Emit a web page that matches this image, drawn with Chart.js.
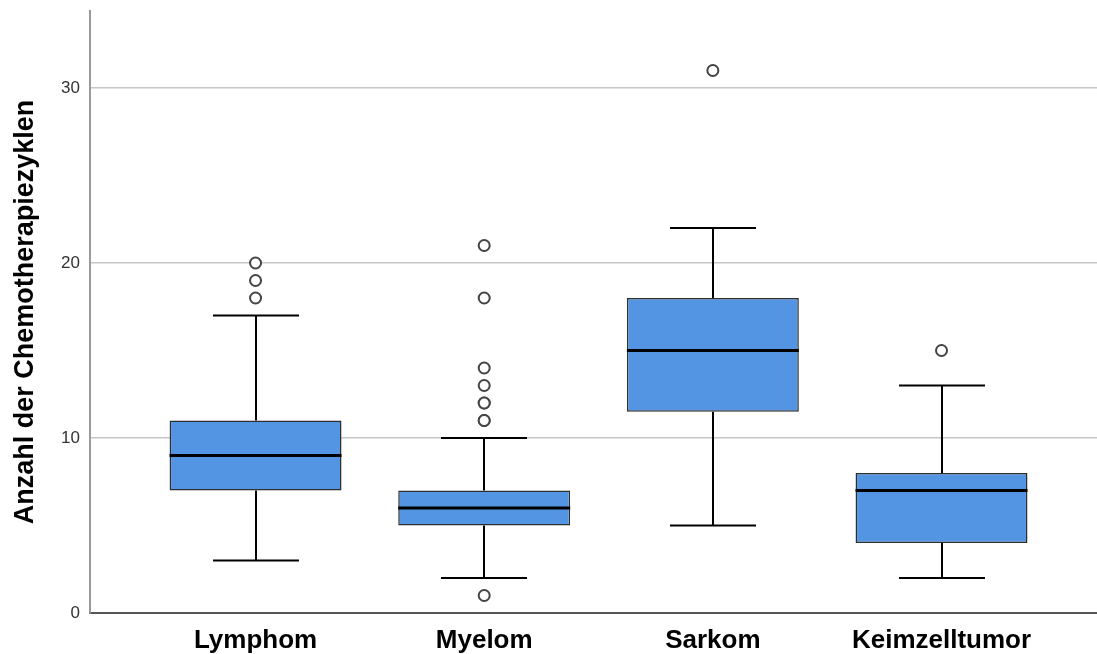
<!DOCTYPE html>
<html>
<head>
<meta charset="utf-8">
<script src="https://cdn.jsdelivr.net/npm/chart.js@4.4.1/dist/chart.umd.min.js"></script>
<style>
  html, body { margin: 0; padding: 0; background: #fff; }
  #wrap { width: 1097px; height: 654px; position: relative; }
</style>
</head>
<body>
<div id="wrap"><canvas id="c" width="1097" height="654"></canvas></div>
<script>
// ---- data ----
const categories = ['Lymphom', 'Myelom', 'Sarkom', 'Keimzelltumor'];
const whiskerLow  = [3, 2, 5, 2];
const quartile1   = [7, 5, 11.5, 4];
const medians     = [9, 6, 15, 7];
const quartile3   = [11, 7, 18, 8];
const whiskerHigh = [17, 10, 22, 13];
const outliersLymphom = [18, 19, 20];
const outliersMyelom = [1, 11, 11, 12, 12, 13, 14, 18, 21];
const outliersSarkom = [31];
const outliersKeimzelltumor = [15];
const yTicks = [0, 10, 20, 30];
const yAxisTitle = 'Anzahl der Chemotherapiezyklen';

// ---- build library structures ----
const positions = categories.map((_, i) => i + 1);
const boxData = positions.map((x, i) => ({ x: x, y: [quartile1[i], quartile3[i]] }));
const outlierGroups = [outliersLymphom, outliersMyelom, outliersSarkom, outliersKeimzelltumor];
const outlierData = [];
outlierGroups.forEach((g, i) => g.forEach(v => outlierData.push({ x: positions[i], y: v })));

const boxPlugin = {
  id: 'boxParts',
  beforeDatasetsDraw(chart) {
    const { ctx, scales: { x, y } } = chart;
    const meta = chart.getDatasetMeta(0);
    ctx.save();
    ctx.strokeStyle = '#000';
    ctx.lineWidth = 2;
    positions.forEach((p, i) => {
      const px = Math.round(x.getPixelForValue(p));
      const w = meta.data[i].width;
      const capHalf = w / 4;
      const yLo = y.getPixelForValue(whiskerLow[i]);
      const yQ1 = y.getPixelForValue(quartile1[i]);
      const yQ3 = y.getPixelForValue(quartile3[i]);
      const yHi = y.getPixelForValue(whiskerHigh[i]);
      ctx.beginPath();
      ctx.moveTo(px, yQ1); ctx.lineTo(px, yLo);
      ctx.moveTo(px, yQ3); ctx.lineTo(px, yHi);
      ctx.moveTo(px - capHalf, yLo); ctx.lineTo(px + capHalf, yLo);
      ctx.moveTo(px - capHalf, yHi); ctx.lineTo(px + capHalf, yHi);
      ctx.stroke();
    });
    ctx.restore();
  },
  afterDatasetsDraw(chart) {
    const { ctx, scales: { x, y } } = chart;
    const meta = chart.getDatasetMeta(0);
    ctx.save();
    ctx.strokeStyle = '#000';
    ctx.lineWidth = 3;
    positions.forEach((p, i) => {
      const px = x.getPixelForValue(p);
      const w = meta.data[i].width;
      const ym = y.getPixelForValue(medians[i]);
      ctx.beginPath();
      ctx.moveTo(px - w / 2, ym); ctx.lineTo(px + w / 2, ym);
      ctx.stroke();
    });
    ctx.restore();
  }
};

new Chart(document.getElementById('c'), {
  type: 'bar',
  data: {
    datasets: [
      {
        type: 'bar',
        data: boxData,
        backgroundColor: '#5394e3',
        borderColor: '#2e2e2e',
        borderWidth: 1.5,
        borderSkipped: false,
        categoryPercentage: 1,
        barPercentage: 0.752,
        order: 2
      },
      {
        type: 'scatter',
        data: outlierData,
        pointRadius: 5.5,
        pointHoverRadius: 5.5,
        pointBorderWidth: 2,
        pointBorderColor: '#444444',
        pointBackgroundColor: '#ffffff',
        order: 1
      }
    ]
  },
  options: {
    responsive: false,
    animation: false,
    events: [],
    layout: { autoPadding: false, padding: { top: 11, right: 0, bottom: 0, left: 0 } },
    plugins: { legend: { display: false }, tooltip: { enabled: false } },
    scales: {
      x: {
        type: 'linear',
        offset: false,
        min: 0.276,
        max: 4.68,
        afterBuildTicks: (s) => { s.ticks = positions.map(v => ({ value: v })); },
        afterFit: (s) => { s.height = 41; s.paddingLeft = 0; s.paddingRight = 0; },
        grid: { display: false, drawTicks: false, offset: false },
        border: { display: true, color: '#555555', width: 2 },
        ticks: {
          autoSkip: false,
          maxRotation: 0,
          padding: 12,
          color: '#000',
          font: { family: 'Liberation Sans', size: 26, weight: 'bold' },
          callback: (v) => categories[positions.indexOf(v)] || ''
        }
      },
      y: {
        type: 'linear',
        min: 0,
        max: 34.4,
        afterBuildTicks: (s) => { s.ticks = yTicks.map(v => ({ value: v })); },
        afterFit: (s) => { s.width = 90; s.paddingTop = 0; s.paddingBottom = 0; },
        grid: {
          drawTicks: false,
          lineWidth: 1.5,
          color: (c) => (c.tick && c.tick.value === 0) ? 'rgba(0,0,0,0)' : '#c6c6c6'
        },
        border: { display: true, color: '#9a9a9a', width: 2 },
        ticks: {
          padding: 10,
          color: '#333',
          font: { family: 'Liberation Sans', size: 17 }
        },
        title: {
          display: true,
          text: yAxisTitle,
          color: '#000',
          padding: { top: 9, bottom: 0 },
          font: { family: 'Liberation Sans', size: 27, weight: 'bold' }
        }
      }
    }
  },
  plugins: [boxPlugin]
});
</script>
</body>
</html>
